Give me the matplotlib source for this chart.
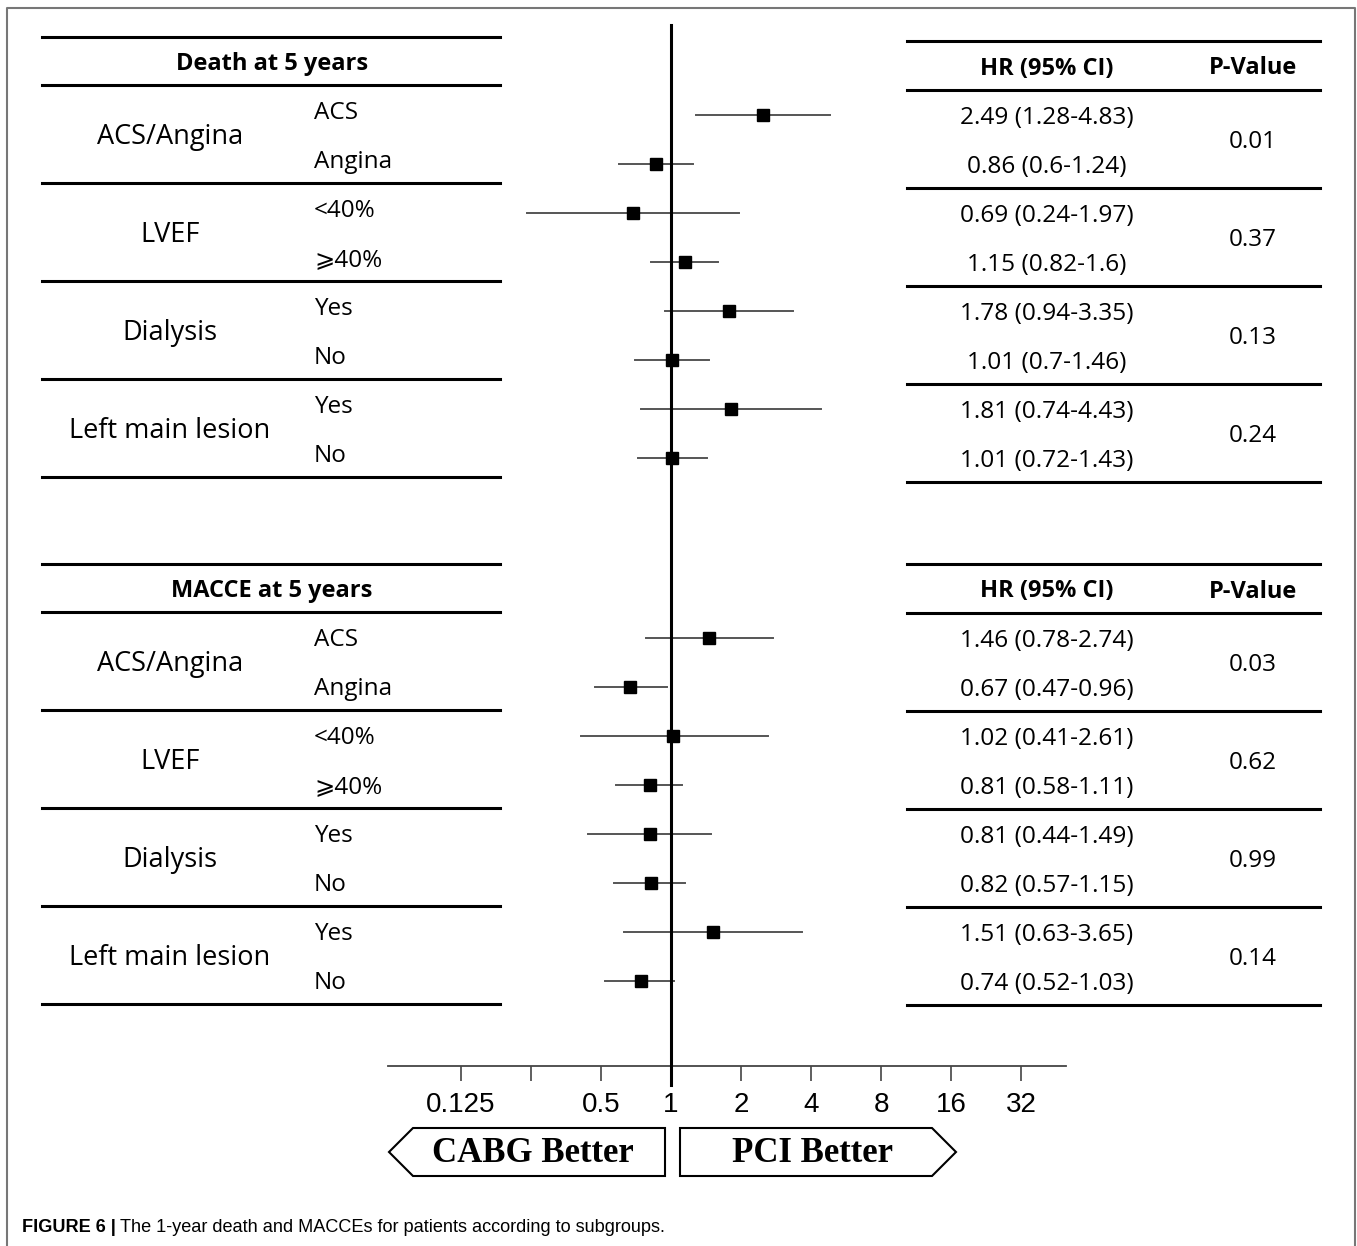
import matplotlib
matplotlib.use("Agg")
import matplotlib.pyplot as plt
from matplotlib.patches import Polygon

# ---- data ----
groups = ['ACS/Angina', 'LVEF', 'Dialysis', 'Left main lesion']
subgroups = ['ACS', 'Angina', '<40%', '⩾40%', 'Yes', 'No', 'Yes', 'No']

death_hr = [2.49, 0.86, 0.69, 1.15, 1.78, 1.01, 1.81, 1.01]
death_lo = [1.28, 0.6, 0.24, 0.82, 0.94, 0.7, 0.74, 0.72]
death_hi = [4.83, 1.24, 1.97, 1.6, 3.35, 1.46, 4.43, 1.43]
death_p = ['0.01', '0.37', '0.13', '0.24']

macce_hr = [1.46, 0.67, 1.02, 0.81, 0.81, 0.82, 1.51, 0.74]
macce_lo = [0.78, 0.47, 0.41, 0.58, 0.44, 0.57, 0.63, 0.52]
macce_hi = [2.74, 0.96, 2.61, 1.11, 1.49, 1.15, 3.65, 1.03]
macce_p = ['0.03', '0.62', '0.99', '0.14']

ticks = [0.125, 0.25, 0.5, 1, 2, 4, 8, 16, 32]
tick_labels = ['0.125', '', '0.5', '1', '2', '4', '8', '16', '32']

W, H = 1357, 1246
TXT = ['Open Sans', 'DejaVu Sans']
DY = 3  # small downward nudge so text sits like the original

fig = plt.figure(figsize=(W / 100, H / 100), dpi=100)
bg = fig.add_axes([0, 0, 1, 1])
bg.set_xlim(0, W)
bg.set_ylim(H, 0)
bg.axis('off')

# outer frame
bg.plot([7, 7, 1355, 1355], [H, 8, 8, H], color='#777777', lw=1.5)

# forest axes, y in pixel units
x0, x1, ybot = 388, 1066, 1066
ax = fig.add_axes([x0 / W, (H - ybot) / H, (x1 - x0) / W, ybot / H])
ax.set_facecolor('none')
ax.set_xscale('log', base=2)
ax.set_xlim(2 ** -4.04, 2 ** 5.64)
ax.set_ylim(ybot, 0)
for s in ['top', 'left', 'right']:
    ax.spines[s].set_visible(False)
ax.spines['bottom'].set_linewidth(1.3)
ax.spines['bottom'].set_color('#444444')
ax.set_yticks([])
ax.set_xticks(ticks)
ax.set_xticklabels(tick_labels, family='Liberation Sans', fontsize=20)
ax.minorticks_off()
ax.tick_params(axis='x', direction='out', length=11, width=1.2, color='#444444', pad=8)
ax.plot([1, 1], [25, 1085], color='black', lw=2.2, clip_on=False, zorder=3)


def section(title, top_l, top_r, hr, lo, hi, pvals):
    hdr_l = top_l + 48
    hdr_r = top_r + 49
    # left table
    bg.plot([42, 500], [top_l, top_l], color='black', lw=2.2)
    bg.plot([42, 500], [hdr_l, hdr_l], color='black', lw=2.2)
    bg.text(272, (top_l + hdr_l) / 2 + DY, title, ha='center', va='center',
            fontsize=17, fontweight='bold', family=TXT)
    # right table
    bg.plot([907, 1320], [top_r, top_r], color='black', lw=2.2)
    bg.plot([907, 1320], [hdr_r, hdr_r], color='black', lw=2.2)
    bg.text(1047, (top_r + hdr_r) / 2 + DY, 'HR (95% CI)', ha='center', va='center',
            fontsize=17, fontweight='bold', family=TXT)
    bg.text(1253, (top_r + hdr_r) / 2 + DY, 'P-Value', ha='center', va='center',
            fontsize=17, fontweight='bold', family=TXT)
    for g in range(len(groups)):
        yl = hdr_l + 98 * (g + 1)
        yr = hdr_r + 98 * (g + 1)
        bg.plot([42, 500], [yl, yl], color='black', lw=2.2)
        bg.plot([907, 1320], [yr, yr], color='black', lw=2.2)
        bg.text(170, hdr_l + 98 * g + 49 + DY, groups[g], ha='center', va='center',
                fontsize=19.5, family=TXT)
        bg.text(1253, hdr_r + 98 * g + 49 + DY, pvals[g], ha='center', va='center',
                fontsize=17.5, family=TXT)
    for i in range(len(subgroups)):
        yl = hdr_l + 25 + 49 * i
        yr = hdr_r + 25 + 49 * i
        bg.text(314, yl + DY, subgroups[i], ha='left', va='center', fontsize=17.5, family=TXT)
        bg.text(1047, yr + DY, f'{hr[i]} ({lo[i]}-{hi[i]})', ha='center', va='center',
                fontsize=17.6, family=TXT)
        ax.plot([lo[i], hi[i]], [yr, yr], color='#555555', lw=1.4, zorder=2)
        ax.plot(hr[i], yr, marker='s', ms=8, color='black', zorder=4)


section('Death at 5 years', 37, 41, death_hr, death_lo, death_hi, death_p)
section('MACCE at 5 years', 564, 564, macce_hr, macce_lo, macce_hi, macce_p)

# direction boxes
left_box = Polygon([(389, 1152), (413, 1128), (665, 1128), (665, 1176), (413, 1176)],
                   closed=True, fill=False, edgecolor='black', lw=1.5)
right_box = Polygon([(680, 1128), (932, 1128), (956, 1152), (932, 1176), (680, 1176)],
                    closed=True, fill=False, edgecolor='black', lw=1.5)
bg.add_patch(left_box)
bg.add_patch(right_box)
bg.text(533, 1154, 'CABG Better', ha='center', va='center', fontsize=25,
        fontweight='bold', family='Liberation Serif')
bg.text(812, 1154, 'PCI Better', ha='center', va='center', fontsize=25,
        fontweight='bold', family='Liberation Serif')

# caption
cap1 = bg.text(22, 1228, 'FIGURE 6 |', ha='left', va='center', fontsize=13.1,
               fontweight='bold', family='Liberation Sans')
renderer = fig.canvas.get_renderer()
bb = cap1.get_window_extent(renderer)
bg.text(bb.x1 + 4, 1228, 'The 1-year death and MACCEs for patients according to subgroups.',
        ha='left', va='center', fontsize=13.1, family='Liberation Sans')

fig.savefig('out.png', dpi=100)
